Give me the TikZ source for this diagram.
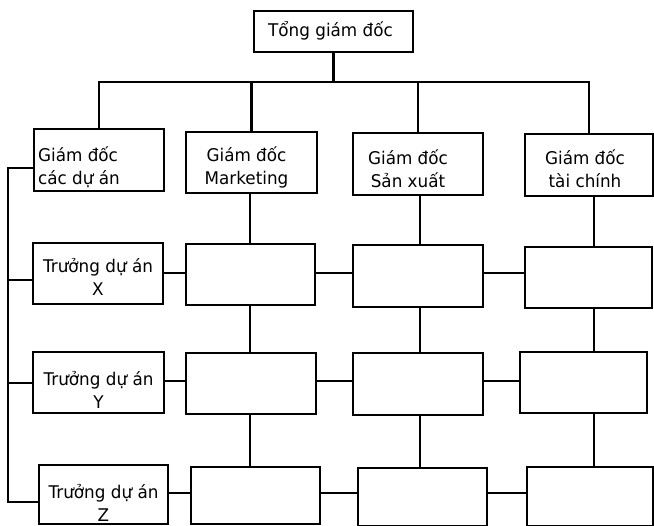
\documentclass[tikz,border=0pt]{standalone}
\usepackage{fontspec}
\setmainfont{DejaVu Sans}[FakeStretch=0.96]
\begin{document}
\begin{tikzpicture}[x=1pt,y=-1pt,
  box/.style={draw, line width=2.2pt, inner sep=0pt},
  wh/.style 2 args={minimum width=#1pt, minimum height=#2pt},
  txt/.style={inner sep=0pt, align=center, font=\fontsize{17.5}{23}\selectfont},
  link/.style={line width=2.2pt}]
\useasboundingbox (0,0) rectangle (654,526);

% top of the hierarchy
\node[box, wh={159}{41}] (T) at (333.5,31.5) {};

% directors
\node[box, wh={130}{62}] (A) at (99,160) {};
\node[box, wh={131}{61}] (B) at (251.5,162.5) {};
\node[box, wh={130}{62}] (C) at (418,164) {};
\node[box, wh={128}{62}] (D) at (589,165) {};

% project X row
\node[box, wh={130}{61}] (X)  at (98,273.5) {};
\node[box, wh={129}{61}] (MX) at (250.5,274.5) {};
\node[box, wh={130}{62}] (CX) at (418,276) {};
\node[box, wh={127}{61}] (DX) at (588.5,277.5) {};

% project Y row
\node[box, wh={131}{61}] (Y)  at (98.5,382.5) {};
\node[box, wh={130}{61}] (MY) at (251,383.5) {};
\node[box, wh={130}{62}] (CY) at (418,384) {};
\node[box, wh={127}{61}] (DY) at (583.5,382.5) {};

% project Z row
\node[box, wh={129}{59}] (Z)  at (103.5,494.5) {};
\node[box, wh={129}{57}] (MZ) at (255.5,495.5) {};
\node[box, wh={129}{58}] (CZ) at (422.5,497) {};
\node[box, wh={126}{59}] (DZ) at (590,496.5) {};

% box labels
\node[txt] (tT) at ([xshift=-3pt,yshift=1pt]T.center) {Tổng giám đốc};
\node[txt, anchor=west, align=left] (tA) at ([xshift=5pt,yshift=-7pt]A.west) {Giám đốc\\các dự án};
\node[txt] (tB) at ([xshift=-5pt,yshift=-5pt]B.center) {Giám đốc\\Marketing};
\node[txt] (tC) at ([xshift=-10pt,yshift=-5pt]C.center) {Giám đốc\\Sản xuất};
\node[txt] (tD) at ([xshift=-4pt,yshift=-4pt]D.center) {Giám đốc\\tài chính};
\node[txt] (tX) at ([yshift=-3.5pt]X.center) {Trưởng dự án\\X};
\node[txt] (tY) at ([yshift=-7.5pt]Y.center) {Trưởng dự án\\Y};
\node[txt] (tZ) at ([yshift=-8.5pt]Z.center) {Trưởng dự án\\Z};

% guide coordinates for the connector lines
\coordinate (bus) at (0,82);
\coordinate (spine) at (8,0);
\coordinate (lA) at (0,168);
\coordinate (lX) at (0,280);
\coordinate (lY) at (0,383);
\coordinate (lZ) at (0,502);
\coordinate (rowX) at (0,273);
\coordinate (rowY) at (0,381);
\coordinate (rowZ) at (0,493);
\coordinate (colB) at (250,0);
\coordinate (colC) at (420,0);
\coordinate (colD) at (594,0);

% general director to directors
\draw[link] (T.south) -- (T.south |- bus);
\draw[link] (A.north) -- (A.north |- bus) -- (D.north |- bus) -- (D.north);
\draw[link] (B.north) -- (B.north |- bus);
\draw[link] (C.north) -- (C.north |- bus);

% project director to project leaders
\draw[link] (A.west |- lA) -| (spine |- lZ) -- (Z.west |- lZ);
\draw[link] (spine |- lX) -- (X.west |- lX);
\draw[link] (spine |- lY) -- (Y.west |- lY);

% functional columns
\draw[link] (B.south -| colB) -- (MX.north -| colB);
\draw[link] (MX.south -| colB) -- (MY.north -| colB);
\draw[link] (MY.south -| colB) -- (MZ.north -| colB);
\draw[link] (C.south -| colC) -- (CX.north -| colC);
\draw[link] (CX.south -| colC) -- (CY.north -| colC);
\draw[link] (CY.south -| colC) -- (CZ.north -| colC);
\draw[link] (D.south -| colD) -- (DX.north -| colD);
\draw[link] (DX.south -| colD) -- (DY.north -| colD);
\draw[link] (DY.south -| colD) -- (DZ.north -| colD);

% project rows
\draw[link] (X.east |- rowX) -- (MX.west |- rowX);
\draw[link] (MX.east |- rowX) -- (CX.west |- rowX);
\draw[link] (CX.east |- rowX) -- (DX.west |- rowX);
\draw[link] (Y.east |- rowY) -- (MY.west |- rowY);
\draw[link] (MY.east |- rowY) -- (CY.west |- rowY);
\draw[link] (CY.east |- rowY) -- (DY.west |- rowY);
\draw[link] (Z.east |- rowZ) -- (MZ.west |- rowZ);
\draw[link] (MZ.east |- rowZ) -- (CZ.west |- rowZ);
\draw[link] (CZ.east |- rowZ) -- (DZ.west |- rowZ);
\end{tikzpicture}
\end{document}
